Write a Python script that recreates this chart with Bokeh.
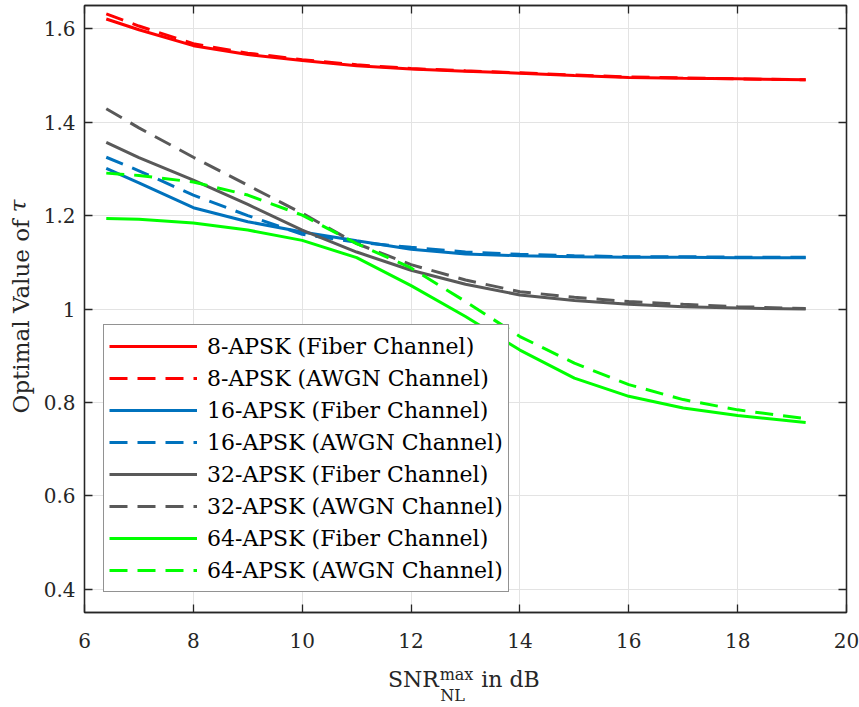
from bokeh.plotting import figure
from bokeh.models import Range1d, LinearAxis, FixedTicker, Legend, LegendItem
from bokeh.embed import file_html
from bokeh.resources import INLINE

# ---------------- data ----------------
snr_db = [6.4, 7, 8, 9, 10, 11, 12, 13, 14, 15, 16, 17, 18, 19.25]

apsk8_fiber = [1.621, 1.598, 1.564, 1.545, 1.532, 1.521, 1.514, 1.509, 1.505, 1.500, 1.496, 1.494, 1.493, 1.491]
apsk8_awgn = [1.632, 1.606, 1.568, 1.548, 1.534, 1.523, 1.515, 1.510, 1.506, 1.501, 1.497, 1.495, 1.493, 1.491]
apsk16_fiber = [1.301, 1.270, 1.217, 1.187, 1.165, 1.146, 1.128, 1.118, 1.114, 1.112, 1.111, 1.111, 1.110, 1.110]
apsk16_awgn = [1.325, 1.296, 1.244, 1.200, 1.160, 1.143, 1.132, 1.122, 1.117, 1.114, 1.112, 1.112, 1.111, 1.111]
apsk32_fiber = [1.357, 1.324, 1.276, 1.224, 1.169, 1.122, 1.083, 1.053, 1.030, 1.018, 1.010, 1.005, 1.002, 1.000]
apsk32_awgn = [1.429, 1.388, 1.325, 1.265, 1.205, 1.140, 1.095, 1.062, 1.037, 1.025, 1.016, 1.010, 1.005, 1.001]
apsk64_fiber = [1.194, 1.192, 1.184, 1.169, 1.147, 1.110, 1.050, 0.984, 0.912, 0.852, 0.813, 0.788, 0.772, 0.757]
apsk64_awgn = [1.291, 1.286, 1.272, 1.244, 1.201, 1.140, 1.088, 1.016, 0.941, 0.884, 0.838, 0.806, 0.784, 0.765]

series_labels = [
    "8-APSK (Fiber Channel)", "8-APSK (AWGN Channel)",
    "16-APSK (Fiber Channel)", "16-APSK (AWGN Channel)",
    "32-APSK (Fiber Channel)", "32-APSK (AWGN Channel)",
    "64-APSK (Fiber Channel)", "64-APSK (AWGN Channel)",
]
series_values = [apsk8_fiber, apsk8_awgn, apsk16_fiber, apsk16_awgn,
                 apsk32_fiber, apsk32_awgn, apsk64_fiber, apsk64_awgn]
series_colors = ["#FF0000", "#FF0000", "#0072BD", "#0072BD",
                 "#595959", "#595959", "#00FF00", "#00FF00"]
series_dashed = [False, True, False, True, False, True, False, True]

x_ticks = [6, 8, 10, 12, 14, 16, 18, 20]
y_ticks = [0.4, 0.6, 0.8, 1.0, 1.2, 1.4, 1.6]
y_tick_labels = ["0.4", "0.6", "0.8", "1", "1.2", "1.4", "1.6"]

# axis title pieces (texts)
x_title_main = ["SNR", "in dB"]
x_title_sup = "max"
x_title_sub = "NL"
y_title_main = "Optimal Value of"
y_title_sym = "τ"

# ---------------- figure ----------------
FONT = "DejaVu Serif"
AX = "#262626"

p = figure(width=859, height=707, output_backend="svg", toolbar_location=None,
           x_range=Range1d(6, 20), y_range=Range1d(0.35, 1.65))
p.min_border_left = 84
p.min_border_right = 13
p.min_border_top = 5
p.min_border_bottom = 93
p.background_fill_color = "white"
p.border_fill_color = "white"
p.outline_line_color = AX
p.outline_line_width = 1.3

# helper ranges in pixel-like units for placing the title pieces
p.extra_x_ranges = {"px": Range1d(84, 846)}
p.extra_y_ranges = {"py": Range1d(614, 5)}


def style_axis(ax, size="20px", standoff=12):
    ax.axis_line_color = AX
    ax.axis_line_width = 1.3
    ax.major_tick_line_color = AX
    ax.major_tick_line_width = 1.3
    ax.major_tick_in = 8
    ax.major_tick_out = 0
    ax.minor_tick_line_color = None
    ax.major_label_text_font = FONT
    ax.major_label_text_color = AX
    ax.major_label_text_font_size = size
    ax.major_label_standoff = standoff


p.xaxis.ticker = FixedTicker(ticks=x_ticks)
p.yaxis.ticker = FixedTicker(ticks=y_ticks)
p.yaxis.major_label_overrides = {t: l for t, l in zip(y_ticks, y_tick_labels)}
style_axis(p.xaxis[0], standoff=20)
style_axis(p.yaxis[0], standoff=9)

# box ticks on top and right (no labels)
top_ax = LinearAxis(ticker=FixedTicker(ticks=x_ticks))
right_ax = LinearAxis(ticker=FixedTicker(ticks=y_ticks))
for a in (top_ax, right_ax):
    style_axis(a, size="0px", standoff=0)
    a.major_label_text_color = None
p.add_layout(top_ax, "above")
p.add_layout(right_ax, "right")


def title_axis(range_name, ticks, labels, size, standoff, italic=False, vertical=False, horiz=True):
    if horiz:
        a = LinearAxis(x_range_name=range_name, ticker=FixedTicker(ticks=ticks))
    else:
        a = LinearAxis(y_range_name=range_name, ticker=FixedTicker(ticks=ticks))
    a.major_label_overrides = {t: l for t, l in zip(ticks, labels)}
    a.axis_line_color = None
    a.major_tick_line_color = None
    a.minor_tick_line_color = None
    a.major_tick_in = 0
    a.major_tick_out = 0
    a.major_label_text_font = FONT
    a.major_label_text_font_size = size
    a.major_label_text_color = AX
    a.major_label_standoff = standoff
    if italic:
        a.major_label_text_font_style = "italic"
    if vertical:
        a.major_label_orientation = "vertical"
    return a


# x title rows (stacked below the tick labels): superscript, subscript, then main text
p.add_layout(title_axis("px", [456], [x_title_sup], "16px", 14), "below")
p.add_layout(title_axis("px", [452], [x_title_sub], "16px", -1), "below")
p.add_layout(title_axis("px", [413, 510], x_title_main, "22px", -41), "below")

# y title: main text and italic tau in the same column
p.add_layout(title_axis("py", [317], [y_title_main], "23px", 6, vertical=True, horiz=False), "left")
p.add_layout(title_axis("py", [206], [y_title_sym], "23px", -26, italic=True, vertical=True, horiz=False), "left")

p.xgrid.ticker = FixedTicker(ticks=x_ticks)
p.ygrid.ticker = FixedTicker(ticks=y_ticks)
p.grid.grid_line_color = "#e3e3e3"
p.grid.grid_line_width = 1

items = []
for lab, vals, col, dsh in zip(series_labels, series_values, series_colors, series_dashed):
    r = p.line(snr_db, vals, line_color=col, line_width=3,
               line_dash="18 10" if dsh else "solid")
    items.append(LegendItem(label=lab, renderers=[r]))

legend = Legend(items=items, location=(19, 20))
legend.label_text_font = FONT
legend.label_text_font_size = "22px"
legend.label_text_color = "black"
legend.label_height = 32
legend.glyph_height = 32
legend.glyph_width = 88
legend.label_standoff = 10
legend.spacing = 0
legend.padding = 5
legend.margin = 0
legend.border_line_color = AX
legend.border_line_width = 1.3
legend.background_fill_color = "white"
legend.background_fill_alpha = 1
p.add_layout(legend)

open("out.html", "w").write(file_html(p, INLINE))
